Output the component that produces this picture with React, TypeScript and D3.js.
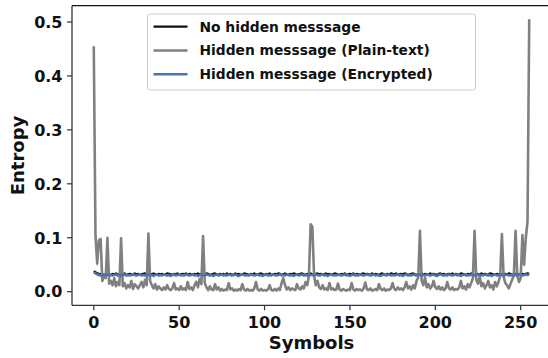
import React from "react";
import * as d3 from "d3";

// Entropy per symbol value (0..255)
const symbols: number[] = d3.range(256);

const plainText: number[] = [
  0.455, 0.105, 0.052, 0.095, 0.098, 0.02, 0.03, 0.025, 0.1, 0.015, 0.02, 0.012, 0.025, 0.01, 0.018, 0.012,
  0.099, 0.01, 0.016, 0.006, 0.012, 0.008, 0.02, 0.005, 0.014, 0.01, 0.006, 0.012, 0.018, 0.008, 0.022, 0.012,
  0.108, 0.02, 0.012, 0.006, 0.014, 0.004, 0.01, 0.006, 0.003, 0.008, 0.004, 0.012, 0.005, 0.003, 0.006, 0.016,
  0.004, 0.006, 0.003, 0.01, 0.004, 0.006, 0.003, 0.018, 0.005, 0.008, 0.003, 0.012, 0.018, 0.008, 0.024, 0.014,
  0.103, 0.016, 0.008, 0.003, 0.01, 0.004, 0.003, 0.014, 0.004, 0.008, 0.002, 0.005, 0.002, 0.004, 0.003, 0.016,
  0.004, 0.006, 0.002, 0.004, 0.002, 0.005, 0.003, 0.014, 0.004, 0.002, 0.005, 0.002, 0.003, 0.002, 0.006, 0.018,
  0.004, 0.002, 0.005, 0.002, 0.003, 0.002, 0.004, 0.012, 0.003, 0.002, 0.005, 0.002, 0.006, 0.003, 0.016, 0.025,
  0.012, 0.004, 0.008, 0.003, 0.006, 0.004, 0.003, 0.014, 0.006, 0.004, 0.01, 0.006, 0.018, 0.012, 0.03, 0.125,
  0.12, 0.03, 0.012, 0.02, 0.008, 0.005, 0.012, 0.004, 0.006, 0.003, 0.016, 0.004, 0.006, 0.003, 0.004, 0.015,
  0.004, 0.002, 0.005, 0.003, 0.002, 0.004, 0.003, 0.016, 0.004, 0.002, 0.005, 0.003, 0.004, 0.002, 0.006, 0.017,
  0.004, 0.003, 0.006, 0.002, 0.003, 0.005, 0.003, 0.014, 0.005, 0.003, 0.006, 0.002, 0.004, 0.003, 0.006, 0.016,
  0.005, 0.003, 0.008, 0.004, 0.006, 0.003, 0.008, 0.018, 0.006, 0.01, 0.004, 0.012, 0.006, 0.02, 0.026, 0.113,
  0.02, 0.012, 0.026, 0.008, 0.014, 0.006, 0.01, 0.02, 0.008, 0.005, 0.01, 0.004, 0.008, 0.003, 0.006, 0.018,
  0.006, 0.004, 0.008, 0.003, 0.005, 0.004, 0.008, 0.02, 0.006, 0.01, 0.004, 0.014, 0.008, 0.016, 0.025, 0.113,
  0.022, 0.015, 0.028, 0.01, 0.016, 0.006, 0.012, 0.02, 0.008, 0.012, 0.004, 0.018, 0.01, 0.018, 0.03, 0.107,
  0.028, 0.016, 0.012, 0.006, 0.014, 0.022, 0.03, 0.113, 0.03, 0.018, 0.025, 0.105, 0.05, 0.1, 0.13, 0.505,
];

const noHidden: number[] = [
  0.038, 0.036, 0.034, 0.033, 0.032, 0.033, 0.031, 0.032, 0.033, 0.032, 0.031, 0.033, 0.032, 0.034, 0.032, 0.031,
  0.033, 0.032, 0.034, 0.031, 0.032, 0.033, 0.032, 0.031, 0.034, 0.032, 0.033, 0.031, 0.032, 0.033, 0.034, 0.032,
  0.031, 0.033, 0.032, 0.034, 0.032, 0.031, 0.033, 0.032, 0.033, 0.031, 0.032, 0.034, 0.033, 0.032, 0.031, 0.033,
  0.032, 0.034, 0.031, 0.032, 0.033, 0.032, 0.034, 0.031, 0.033, 0.032, 0.031, 0.033, 0.032, 0.034, 0.032, 0.033,
  0.031, 0.032, 0.034, 0.033, 0.031, 0.032, 0.033, 0.034, 0.032, 0.031, 0.033, 0.032, 0.033, 0.031, 0.034, 0.032,
  0.033, 0.031, 0.032, 0.034, 0.032, 0.033, 0.031, 0.032, 0.034, 0.033, 0.032, 0.031, 0.033, 0.032, 0.034, 0.031,
  0.032, 0.033, 0.034, 0.032, 0.031, 0.033, 0.032, 0.034, 0.031, 0.032, 0.033, 0.032, 0.034, 0.033, 0.031, 0.032,
  0.034, 0.032, 0.031, 0.033, 0.032, 0.034, 0.033, 0.031, 0.032, 0.033, 0.034, 0.032, 0.031, 0.033, 0.032, 0.034,
  0.032, 0.031, 0.033, 0.034, 0.032, 0.033, 0.031, 0.032, 0.034, 0.032, 0.033, 0.031, 0.032, 0.034, 0.033, 0.032,
  0.031, 0.033, 0.032, 0.034, 0.031, 0.032, 0.033, 0.032, 0.034, 0.031, 0.033, 0.032, 0.031, 0.033, 0.034, 0.032,
  0.033, 0.032, 0.031, 0.034, 0.032, 0.033, 0.032, 0.031, 0.033, 0.034, 0.032, 0.031, 0.033, 0.032, 0.034, 0.033,
  0.032, 0.034, 0.031, 0.032, 0.033, 0.032, 0.034, 0.033, 0.031, 0.032, 0.033, 0.034, 0.032, 0.031, 0.033, 0.032,
  0.034, 0.031, 0.033, 0.032, 0.031, 0.034, 0.032, 0.033, 0.032, 0.031, 0.033, 0.034, 0.032, 0.033, 0.031, 0.032,
  0.033, 0.032, 0.034, 0.031, 0.033, 0.032, 0.031, 0.034, 0.033, 0.032, 0.031, 0.033, 0.032, 0.034, 0.032, 0.031,
  0.032, 0.033, 0.031, 0.034, 0.032, 0.033, 0.032, 0.031, 0.034, 0.033, 0.032, 0.031, 0.033, 0.032, 0.034, 0.032,
  0.031, 0.033, 0.032, 0.034, 0.033, 0.031, 0.032, 0.033, 0.034, 0.032, 0.031, 0.033, 0.032, 0.033, 0.034, 0.033,
];

const encrypted: number[] = [
  0.036, 0.034, 0.032, 0.031, 0.030, 0.031, 0.030, 0.031, 0.032, 0.030, 0.031, 0.030, 0.031, 0.032, 0.030, 0.031,
  0.030, 0.031, 0.032, 0.030, 0.031, 0.030, 0.031, 0.032, 0.031, 0.030, 0.031, 0.032, 0.030, 0.031, 0.030, 0.031,
  0.032, 0.030, 0.031, 0.029, 0.031, 0.032, 0.030, 0.031, 0.030, 0.032, 0.031, 0.030, 0.031, 0.029, 0.031, 0.032,
  0.030, 0.031, 0.032, 0.030, 0.031, 0.030, 0.032, 0.031, 0.030, 0.031, 0.032, 0.030, 0.031, 0.029, 0.031, 0.032,
  0.031, 0.030, 0.032, 0.031, 0.030, 0.031, 0.029, 0.031, 0.032, 0.030, 0.031, 0.032, 0.030, 0.031, 0.030, 0.032,
  0.031, 0.030, 0.031, 0.032, 0.030, 0.029, 0.031, 0.032, 0.031, 0.030, 0.031, 0.030, 0.032, 0.031, 0.030, 0.031,
  0.032, 0.030, 0.031, 0.029, 0.031, 0.032, 0.030, 0.031, 0.030, 0.032, 0.031, 0.030, 0.031, 0.032, 0.030, 0.031,
  0.030, 0.032, 0.031, 0.030, 0.031, 0.029, 0.031, 0.032, 0.030, 0.031, 0.032, 0.030, 0.031, 0.030, 0.032, 0.031,
  0.031, 0.030, 0.032, 0.031, 0.030, 0.031, 0.032, 0.030, 0.031, 0.029, 0.031, 0.032, 0.030, 0.031, 0.030, 0.032,
  0.031, 0.030, 0.031, 0.032, 0.030, 0.031, 0.029, 0.031, 0.032, 0.030, 0.031, 0.030, 0.032, 0.031, 0.030, 0.031,
  0.032, 0.031, 0.030, 0.031, 0.032, 0.030, 0.031, 0.030, 0.029, 0.031, 0.032, 0.030, 0.031, 0.032, 0.030, 0.031,
  0.030, 0.031, 0.032, 0.030, 0.031, 0.029, 0.031, 0.032, 0.030, 0.031, 0.030, 0.032, 0.031, 0.030, 0.031, 0.032,
  0.030, 0.031, 0.030, 0.032, 0.031, 0.030, 0.031, 0.032, 0.030, 0.029, 0.031, 0.032, 0.031, 0.030, 0.031, 0.030,
  0.032, 0.031, 0.030, 0.031, 0.032, 0.030, 0.031, 0.029, 0.031, 0.032, 0.030, 0.031, 0.030, 0.032, 0.031, 0.030,
  0.031, 0.032, 0.030, 0.031, 0.030, 0.032, 0.031, 0.030, 0.031, 0.029, 0.031, 0.032, 0.030, 0.031, 0.032, 0.031,
  0.030, 0.031, 0.032, 0.030, 0.031, 0.030, 0.032, 0.031, 0.030, 0.031, 0.032, 0.030, 0.031, 0.032, 0.031, 0.032,
];

const seriesNames: string[] = [
  "No hidden messsage",
  "Hidden messsage (Plain-text)",
  "Hidden messsage (Encrypted)",
];
const seriesColors: string[] = ["#111111", "#808080", "#4c72b0"];
const seriesWidths: number[] = [2.2, 2.6, 2.5];

const xTicks: number[] = [0, 50, 100, 150, 200, 250];
const yTicks: number[] = [0.0, 0.1, 0.2, 0.3, 0.4, 0.5];

const W = 548;
const H = 358;
const FONT = "'DejaVu Sans', sans-serif";

export default function App() {
  const left = 72;
  const top = 5.7;
  const bottom = 305.3;
  const x = d3.scaleLinear().domain([-12.75, 267.75]).range([left, 551]);
  const y = d3.scaleLinear().domain([-0.02525, 0.53025]).range([bottom, top]);

  const allSeries = [noHidden, plainText, encrypted];
  const line = (vals: number[]) =>
    d3
      .line<number>()
      .x((_, i) => x(symbols[i]))
      .y((d) => y(d))(vals) ?? "";

  const legendRows = [26.7, 50.5, 74.2];

  return (
    <svg
      width={W}
      height={H}
      style={{ position: "absolute", left: 0, top: 0, background: "#fff" }}
      fontFamily={FONT}
    >
      <defs>
        <clipPath id="plotArea">
          <rect x={left} y={top} width={551 - left} height={bottom - top} />
        </clipPath>
      </defs>
      <rect x={0} y={0} width={W} height={H} fill="#fff" />

      <g clipPath="url(#plotArea)">
        {allSeries.map((vals, k) => (
          <path
            key={k}
            d={line(vals)}
            fill="none"
            stroke={seriesColors[k]}
            strokeWidth={seriesWidths[k]}
            strokeLinejoin="round"
          />
        ))}
      </g>

      {/* spines */}
      <line x1={left} x2={left} y1={top} y2={bottom} stroke="#333" strokeWidth={1.3} />
      <line x1={left} x2={W} y1={bottom} y2={bottom} stroke="#333" strokeWidth={1.3} />
      <line x1={left} x2={W} y1={top} y2={top} stroke="#111" strokeWidth={1.3} />

      {/* y axis */}
      {yTicks.map((t) => (
        <g key={t}>
          <line x1={left - 5} x2={left} y1={y(t)} y2={y(t)} stroke="#333" strokeWidth={1.2} />
          <text
            x={left - 9.5}
            y={y(t)}
            dy="0.36em"
            textAnchor="end"
            fontSize={16}
            fontWeight="bold"
            fill="#111"
          >
            {t.toFixed(1)}
          </text>
        </g>
      ))}
      {/* x axis */}
      {xTicks.map((t) => (
        <g key={t}>
          <line x1={x(t)} x2={x(t)} y1={bottom} y2={bottom + 5} stroke="#333" strokeWidth={1.2} />
          <text x={x(t)} y={328} textAnchor="middle" fontSize={16} fontWeight="bold" fill="#111">
            {t}
          </text>
        </g>
      ))}

      <text x={311.5} y={349} textAnchor="middle" fontSize={18} fontWeight="bold" fill="#111">
        Symbols
      </text>
      <text
        transform={`translate(24, ${(top + bottom) / 2}) rotate(-90)`}
        textAnchor="middle"
        fontSize={18}
        fontWeight="bold"
        fill="#111"
      >
        Entropy
      </text>

      {/* legend */}
      <rect
        x={147.5}
        y={14}
        width={328}
        height={76}
        rx={3}
        fill="#fff"
        fillOpacity={0.8}
        stroke="#cccccc"
        strokeWidth={1}
      />
      {seriesNames.map((name, k) => (
        <g key={name}>
          <line
            x1={153.5}
            x2={187.5}
            y1={legendRows[k]}
            y2={legendRows[k]}
            stroke={seriesColors[k]}
            strokeWidth={seriesWidths[k]}
          />
          <text
            x={199.5}
            y={legendRows[k]}
            dy="0.36em"
            fontSize={13.8}
            fontWeight="bold"
            fill="#111"
          >
            {name}
          </text>
        </g>
      ))}
    </svg>
  );
}
